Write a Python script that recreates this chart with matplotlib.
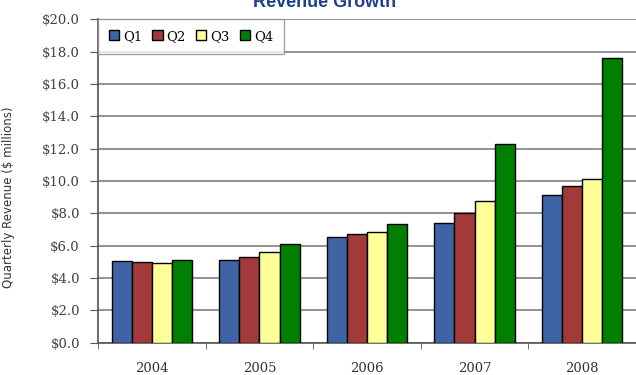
import numpy as np
import matplotlib.pyplot as plt
from matplotlib.ticker import FuncFormatter

years = ['2004', '2005', '2006', '2007', '2008']
quarters = ['Q1', 'Q2', 'Q3', 'Q4']
q1 = [5.06, 5.11, 6.56, 7.42, 9.13]
q2 = [4.97, 5.32, 6.70, 8.00, 9.71]
q3 = [4.96, 5.59, 6.87, 8.76, 10.10]
q4 = [5.11, 6.08, 7.34, 12.27, 17.59]
colors = ['#3E64A6', '#A33A3A', '#FFFF99', '#008000']


def main():
    fig = plt.figure(figsize=(6.36, 3.75), dpi=100)
    ax = fig.add_axes([98 / 636, 1 - 342.7 / 375, 538 / 636, (342.7 - 19.4) / 375])

    x = np.arange(len(years))
    width = 0.187
    for i, (vals, c, lab) in enumerate(zip([q1, q2, q3, q4], colors, quarters)):
        ax.bar(x + (i - 1.5) * width, vals, width, color=c, edgecolor='black',
               linewidth=1.0, label=lab, zorder=3)

    ax.set_xlim(-0.5, len(years) - 0.5)
    ax.set_ylim(0, 20)
    ax.set_yticks(np.arange(0, 21, 2))
    ax.yaxis.set_major_formatter(FuncFormatter(lambda v, p: f"${v:.1f}"))
    ax.grid(axis='y', color='#8a8a8a', linewidth=1.3, zorder=0)
    ax.set_xticks(x)
    ax.set_xticklabels(years)
    ax.set_xticks(np.arange(-0.5, len(years), 1), minor=True)
    ax.tick_params(axis='x', which='major', length=0, pad=14, labelsize=9.5, labelcolor='#333333')
    ax.tick_params(axis='x', which='minor', length=4, color='#555555')
    ax.tick_params(axis='y', length=6, color='#555555', labelsize=9.5, labelcolor='#404040', pad=7)
    for lab in ax.get_xticklabels() + ax.get_yticklabels():
        lab.set_family('DejaVu Serif')

    for s in ['top', 'right']:
        ax.spines[s].set_visible(False)
    ax.spines['left'].set_color('#555555')
    ax.spines['bottom'].set_color('#555555')
    ax.spines['left'].set_linewidth(1.2)
    ax.spines['bottom'].set_linewidth(1.2)

    ax.set_ylabel('Quarterly Revenue ($ millions)', fontsize=8.5, color='#333333',
                  family='DejaVu Sans')
    ax.yaxis.set_label_coords(-83 / 538, 0.45)

    leg = ax.legend(loc='upper left', ncol=4, frameon=True, fancybox=False,
                    borderaxespad=0, handlelength=0.8, handleheight=0.8,
                    handletextpad=0.3, columnspacing=0.75, borderpad=0.8,
                    prop={'family': 'DejaVu Serif', 'size': 9.5})
    leg.get_frame().set_edgecolor('#888888')
    leg.get_frame().set_linewidth(1.0)

    fig.text(0.51, 1 - 7 / 375, 'Revenue Growth', ha='center', va='baseline',
             fontsize=13, fontweight='bold', color='#1F3E8C', family='Liberation Sans')

    fig.savefig('out.png', dpi=100)


if __name__ == "__main__":
    main()
